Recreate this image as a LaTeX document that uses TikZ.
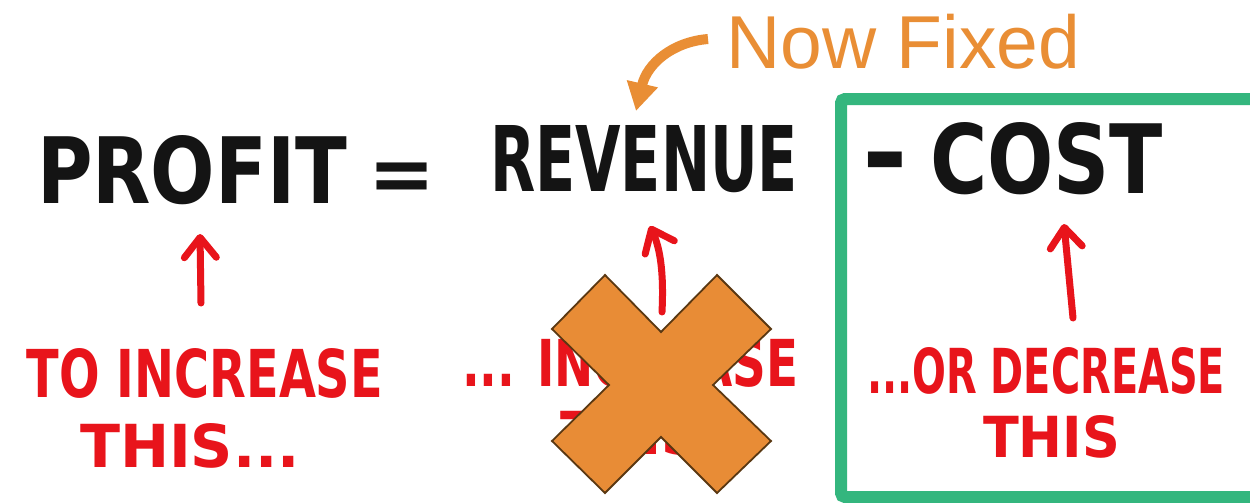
\documentclass[tikz,border=0pt]{standalone}
\usepackage{fontspec}
\usetikzlibrary{arrows.meta}
\newfontfamily\handfont{DejaVu Sans}
\newfontfamily\notefont{Liberation Sans}
\definecolor{ink}{HTML}{141414}
\definecolor{marker}{HTML}{E8141B}
\definecolor{accent}{HTML}{E98E35}
\definecolor{crossfill}{HTML}{E88C36}
\definecolor{crossline}{HTML}{5A3812}
\definecolor{framegreen}{HTML}{34B67E}
% stretch a marker-style word into a box of given width and height (pt)
\newcommand{\fitword}[3]{\resizebox{#1pt}{#2pt}{\handfont\bfseries #3}}

\begin{document}
\begin{tikzpicture}[x=1pt,y=-1pt,
  word/.style={anchor=north west, inner sep=0pt, outer sep=0pt},
  blackword/.style={word, text=ink},
  redword/.style={word, text=marker},
  symbol/.style={anchor=center, inner sep=0pt, outer sep=0pt, text=ink},
  redarrow/.style={draw=marker, line width=7pt, line cap=round, line join=round,
    -{Straight Barb[length=20pt,width=32pt,line cap=round,line join=round]}},
  notearrow/.style={draw=accent, line width=10pt,
    -{Triangle[length=28pt,width=30pt]}},
  crossshape/.style={fill=crossfill, draw=crossline, line width=1.8pt, line join=miter}]

\useasboundingbox (0,0) rectangle (1250,503);
\clip (0,0) rectangle (1250,503);
\fill[white] (0,0) rectangle (1250,503);

% the formula
\node[blackword] (profit)  at (37,135)  {\fitword{310}{68}{PROFIT}};
\node[symbol]    (equals)  at (402,182) {\handfont\bfseries\fontsize{80}{80}\selectfont =};
\node[blackword] (revenue) at (490,125) {\fitword{308}{66}{REVENUE}};
\node[symbol]    (minus)   at (885,172) {\handfont\bfseries\fontsize{110}{110}\selectfont -};
\node[blackword] (cost)    at (930,122) {\fitword{233}{71}{COST}};

% red notes
\node[redword] (incA)  at (27,348)  {\fitword{356}{49}{TO INCREASE}};
\node[redword] (thisA) at (80,423)  {\fitword{220}{44}{THIS...}};
\node[redword] (incB)  at (462,338) {\fitword{336}{48}{... INCREASE}};
\node[redword] (thisB) at (560,410) {\fitword{140}{44}{THIS}};
\node[redword] (decC)  at (867,347) {\fitword{358}{46}{...OR DECREASE}};
\node[redword] (thisC) at (983,415) {\fitword{137}{42}{THIS}};

% red arrows pointing up at the terms
\coordinate (pa0) at (201,303);  \coordinate (pa1) at (200,234);
\coordinate (ra0) at (662,312);  \coordinate (ra1) at (650,226);
\coordinate (ca0) at (1073,318); \coordinate (ca1) at (1064,224);
\draw[redarrow] (pa0) -- (pa1);
\draw[redarrow] (ra0) .. controls (664,272) and (660,248) .. (ra1);
\draw[redarrow] (ca0) -- (ca1);

% green frame around the cost term
\draw[framegreen, line width=12pt, rounded corners=4pt] (841,99) rectangle (1262,497);

% cross over the revenue note
\filldraw[crossshape] (605,275) -- (661,332) -- (717,275) -- (771,329) -- (713,385)
  -- (771,441) -- (717,493) -- (661,437) -- (605,493) -- (552,441) -- (609,385)
  -- (552,329) -- cycle;

% annotation
\node[anchor=base west, inner sep=0pt, text=accent] (nowfixed) at (726,69)
  {\notefont\fontsize{75}{75}\selectfont Now Fixed};
\coordinate (nf0) at (708,39);
\coordinate (nf1) at (636,111);
\draw[notearrow] (nf0) .. controls (672,42) and (647,64) .. (nf1);

\end{tikzpicture}
\end{document}
